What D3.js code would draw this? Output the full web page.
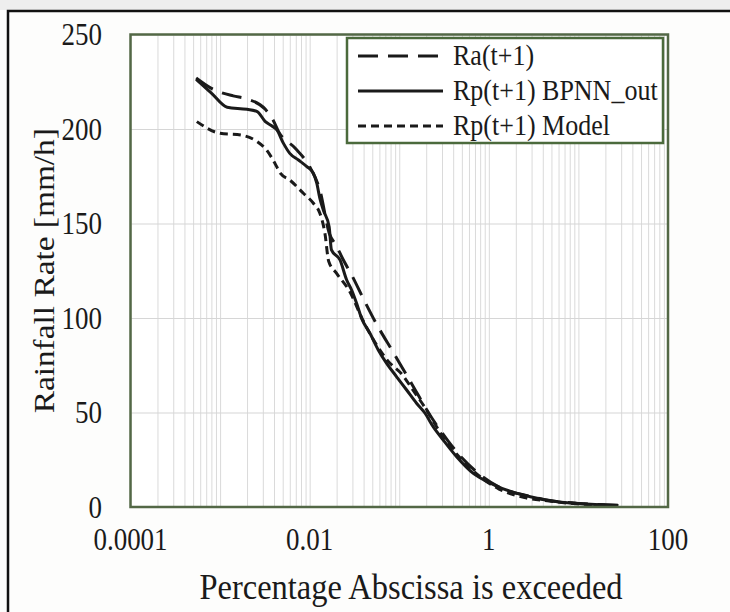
<!DOCTYPE html>
<html>
<head>
<meta charset="utf-8">
<script src="https://cdn.jsdelivr.net/npm/d3@7"></script>
<style>
  body { margin: 0; background: #fdfdfc; }
  svg { display: block; }
  text { font-family: "Liberation Serif", "Times New Roman", serif; fill: #1a1a1a; }
</style>
</head>
<body>
<script>
//series data: percentage exceeded (x) and rainfall rate in mm/h (y)
var raPct = [0.00054, 0.0008, 0.0014, 0.002, 0.0032, 0.0039, 0.0045, 0.0069, 0.010, 0.013, 0.0165, 0.020, 0.023, 0.030, 0.040, 0.054, 0.086, 0.137, 0.22, 0.35, 0.5, 0.8, 1.3, 2.9, 5, 10, 28];
var raRate = [227, 221.5, 217.5, 215.9, 210.4, 204.8, 198.6, 189.8, 180, 167.7, 145, 138, 132, 122, 110, 98, 81.7, 65.4, 48.7, 35, 26, 17, 10.5, 5.6, 3.3, 1.9, 0.9];

var bpnnPct = [0.00054, 0.0008, 0.0012, 0.002, 0.0026, 0.0032, 0.0038, 0.0043, 0.0051, 0.006, 0.0075, 0.0093, 0.011, 0.012, 0.013, 0.0142, 0.0165, 0.0175, 0.0218, 0.0259, 0.0294, 0.0334, 0.038, 0.0471, 0.0583, 0.0723, 0.0935, 0.121, 0.156, 0.194, 0.239, 0.31, 0.437, 0.67, 1.0, 1.4, 2.9, 5, 10, 28];
var bpnnRate = [226.3, 219, 211.5, 210.4, 209.2, 203.9, 201.6, 199.5, 192.4, 187.1, 183.6, 180.1, 176.6, 171.3, 163.3, 157.1, 148.3, 136, 130.7, 120.1, 114.8, 107.8, 99.8, 91.9, 83.1, 76, 68.9, 61.9, 54.9, 49.6, 42.5, 35.4, 26.6, 17.8, 13, 9.9, 5.4, 3.2, 1.8, 0.8];

var modelPct = [0.00055, 0.001, 0.0017, 0.0026, 0.0033, 0.0041, 0.0047, 0.006, 0.0085, 0.011, 0.013, 0.0148, 0.0163, 0.020, 0.028, 0.040, 0.075, 0.109, 0.142, 0.189, 0.3, 0.5, 0.8, 1.3, 2.5, 5, 10, 28];
var modelRate = [203.9, 197.7, 196.8, 193.3, 188.9, 181.8, 176.6, 173, 166, 160.7, 155.4, 144.8, 130, 123.6, 114, 98, 77.2, 69.8, 61.9, 53.4, 38, 25, 16, 9.5, 5, 3, 1.6, 0.7];

//legend entries and axis ticks
var seriesNames = ["Ra(t+1)", "Rp(t+1) BPNN_out", "Rp(t+1) Model"];
var seriesDash = ["20,10", null, "8,5"];
var xTickValues = [0.0001, 0.01, 1, 100];
var xTickLabels = ["0.0001", "0.01", "1", "100"];
var yTickValues = [0, 50, 100, 150, 200, 250];

//the source picture is a little taller than wide, so text gets stretched
var textStretch = 1.15;

window.onload = drawChart();

function drawChart(){
    var width = 730,
        height = 612;

    var plot = {left: 130.5, right: 668, top: 34.5, bottom: 507};

    var svg = d3.select("body")
      .append("svg")
      .attr("width", width)
      .attr("height", height);

    //light strip above the outer frame
    svg.append("rect")
      .attr("x", 0).attr("y", 0)
      .attr("width", width).attr("height", 10)
      .style("fill", "#eeeeee");

    //outer frame
    svg.append("rect")
      .attr("x", 8).attr("y", 11)
      .attr("width", width + 20).attr("height", height)
      .style("fill", "#fdfdfc")
      .style("stroke", "#111")
      .style("stroke-width", 2.5);

    var x = d3.scaleLog()
      .domain([0.0001, 100])
      .range([plot.left, plot.right]);

    var y = d3.scaleLinear()
      .domain([0, 250])
      .range([plot.bottom, plot.top]);

    //plot background
    svg.append("rect")
      .attr("x", plot.left).attr("y", plot.top)
      .attr("width", plot.right - plot.left)
      .attr("height", plot.bottom - plot.top)
      .style("fill", "#ffffff");

    //vertical grid (major and minor decades)
    svg.append("g")
      .attr("class", "xgrid")
      .attr("transform", "translate(0," + plot.bottom + ")")
      .call(d3.axisBottom(x)
        .tickValues(x.ticks())
        .tickSize(-(plot.bottom - plot.top))
        .tickFormat(""))
      .call(function(g){ g.select(".domain").remove(); })
      .selectAll("line")
        .style("stroke", "#dadada")
        .style("stroke-width", 1);

    //horizontal grid
    svg.append("g")
      .attr("class", "ygrid")
      .attr("transform", "translate(" + plot.left + ",0)")
      .call(d3.axisLeft(y)
        .tickValues(yTickValues)
        .tickSize(-(plot.right - plot.left))
        .tickFormat(""))
      .call(function(g){ g.select(".domain").remove(); })
      .selectAll("line")
        .style("stroke", "#d6d6d6")
        .style("stroke-width", 1.2);

    //curves
    var seriesData = [
      d3.zip(raPct, raRate),
      d3.zip(bpnnPct, bpnnRate),
      d3.zip(modelPct, modelRate)
    ];

    var line = d3.line()
      .x(function(d){ return x(d[0]); })
      .y(function(d){ return y(d[1]); })
      .curve(d3.curveMonotoneX);

    svg.selectAll(".curve")
      .data(seriesData)
      .enter()
      .append("path")
      .attr("class", "curve")
      .attr("d", line)
      .style("fill", "none")
      .style("stroke", "#1a1a1a")
      .style("stroke-width", 3)
      .style("stroke-dasharray", function(d, i){ return seriesDash[i]; });

    //plot border
    svg.append("rect")
      .attr("x", plot.left).attr("y", plot.top)
      .attr("width", plot.right - plot.left)
      .attr("height", plot.bottom - plot.top)
      .style("fill", "none")
      .style("stroke", "#536846")
      .style("stroke-width", 2.5);

    //y tick labels
    svg.selectAll(".ytick")
      .data(yTickValues)
      .enter()
      .append("g")
      .attr("class", "ytick")
      .attr("transform", function(d){ return "translate(102," + y(d) + ") scale(1," + textStretch + ")"; })
      .append("text")
      .attr("dy", "0.35em")
      .attr("text-anchor", "end")
      .style("font-size", "27px")
      .text(function(d){ return d; });

    //x tick labels
    svg.selectAll(".xtick")
      .data(xTickValues)
      .enter()
      .append("g")
      .attr("class", "xtick")
      .attr("transform", function(d){ return "translate(" + x(d) + ",550) scale(1," + textStretch + ")"; })
      .append("text")
      .attr("text-anchor", "middle")
      .style("font-size", "27px")
      .text(function(d, i){ return xTickLabels[i]; });

    //axis titles
    svg.append("g")
      .attr("transform", "translate(411,599) scale(1,1.1)")
      .append("text")
      .attr("text-anchor", "middle")
      .style("font-size", "32.5px")
      .text("Percentage Abscissa is exceeded");

    svg.append("g")
      .attr("transform", "translate(54," + ((plot.top + plot.bottom) / 2) + ") rotate(-90) scale(" + textStretch + ",1)")
      .append("text")
      .attr("text-anchor", "middle")
      .style("font-size", "29px")
      .text("Rainfall Rate [mm/h]");

    setLegend(svg);
};

function setLegend(svg){
    var box = {x: 347, y: 38, w: 316, h: 105};

    svg.append("rect")
      .attr("x", box.x).attr("y", box.y)
      .attr("width", box.w).attr("height", box.h)
      .style("fill", "#ffffff")
      .style("stroke", "#4b6a3c")
      .style("stroke-width", 2.5);

    var rows = svg.selectAll(".legendRow")
      .data(seriesNames)
      .enter()
      .append("g")
      .attr("class", "legendRow")
      .attr("transform", function(d, i){ return "translate(0," + (56 + i * 35) + ")"; });

    rows.append("line")
      .attr("x1", 358).attr("x2", 443)
      .attr("y1", 0).attr("y2", 0)
      .style("stroke", "#1a1a1a")
      .style("stroke-width", 3)
      .style("stroke-dasharray", function(d, i){ return seriesDash[i]; });

    rows.append("g")
      .attr("transform", "translate(453,9) scale(1,1.1)")
      .append("text")
      .style("font-size", "26px")
      .text(function(d){ return d; });
};
</script>
</body>
</html>
